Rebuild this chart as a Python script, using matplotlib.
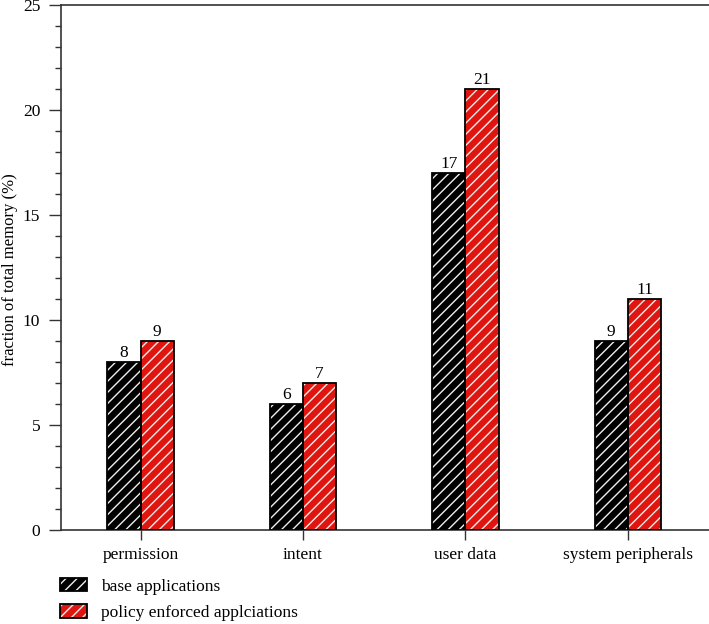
import matplotlib
matplotlib.use("Agg")
import matplotlib.pyplot as plt
import numpy as np
from matplotlib.ticker import MultipleLocator
from matplotlib.patches import Patch

categories = ["permission", "intent", "user data", "system peripherals"]
base = [8, 6, 17, 9]
policy = [9, 7, 21, 11]
series_names = ["base applications", "policy enforced applciations"]

plt.rcParams['font.family'] = ['Liberation Serif', 'DejaVu Serif']
plt.rcParams['hatch.linewidth'] = 1.0

fig = plt.figure(figsize=(7.09, 6.24), dpi=100)
ax = fig.add_axes([61/709, 1-530/624, 1-61/709, 525/624])

x = np.arange(len(categories))
w = 0.205
colors = ["#000000", "#e0150f"]
fs = 12.5
hatch = '///'
for vals, off, c in [(base, -w/2, colors[0]), (policy, w/2, colors[1])]:
    ax.bar(x + off, vals, w, color=c, edgecolor='none', zorder=2)
    ax.bar(x + off, vals, w, color='none', edgecolor='#eeeeee', hatch=hatch, linewidth=0, zorder=3)
    ax.bar(x + off, vals, w, color='none', edgecolor='black', linewidth=1.3, zorder=4)
    for xi, v in zip(x + off, vals):
        ax.annotate(str(v), (xi, v), xytext=(0, 1), textcoords='offset points',
                    ha='center', va='bottom', fontsize=fs)

ax.set_xlim(-0.49, 3.5)
ax.set_ylim(0, 25)
ax.set_xticks(x)
ax.set_xticklabels(categories, fontsize=fs)
ax.yaxis.set_major_locator(MultipleLocator(5))
ax.yaxis.set_minor_locator(MultipleLocator(1))
ax.tick_params(axis='y', which='major', length=9, width=1, direction='out', labelsize=fs, pad=6, colors='#333333', labelcolor='black')
ax.tick_params(axis='y', which='minor', length=4, width=1, direction='out', colors='#333333')
ax.tick_params(axis='x', which='major', length=7, width=1, direction='out', labelsize=fs, pad=5, colors='#333333', labelcolor='black')
for s in ['left', 'bottom', 'top']:
    ax.spines[s].set_color('#333333')
    ax.spines[s].set_linewidth(1.2)
ax.spines['right'].set_visible(False)
ax.set_ylabel("fraction of total memory (%)", fontsize=12)
ax.yaxis.set_label_coords(-43/648, 0.495)

handles = []
for c in colors:
    handles.append((Patch(facecolor=c, edgecolor='none'),
                    Patch(facecolor='none', edgecolor='#eeeeee', hatch=hatch, linewidth=0),
                    Patch(facecolor='none', edgecolor='black', linewidth=1.3)))
fig.legend(handles, series_names, loc='upper left', bbox_to_anchor=(60/709, 1-578/624),
           frameon=False, fontsize=fs, handlelength=1.55, handleheight=0.8, labelspacing=0.55,
           handletextpad=0.8, borderaxespad=0, borderpad=0)

fig.savefig("out.png", dpi=100)
